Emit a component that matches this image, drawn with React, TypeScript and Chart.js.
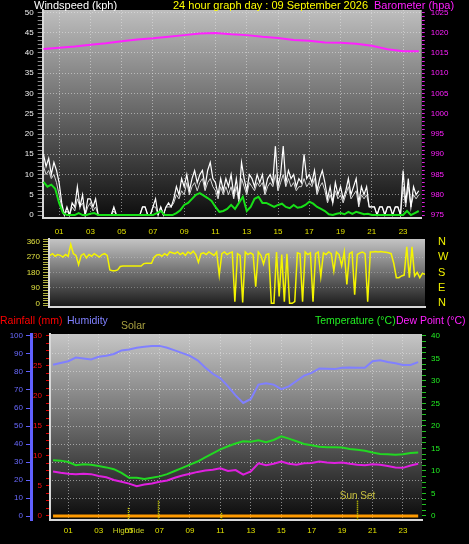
import React, { useEffect, useRef } from "react";
import { Chart, registerables } from "chart.js";

Chart.register(...registerables);

// ---------------- data ----------------
// wind gust, 10-minute readings (kph), 00:00 .. 24:00
const windGust10 = [
  15, 12, 14, 10, 13, 11,
  8, 3, 0, 2, 0, 3,
  2, 7, 2, 5, 0, 4,
  4, 2, 4, 0, 0, 0,
  0, 0, 0, 2, 0, 0,
  0, 0, 0, 0, 0, 0,
  0, 0, 2, 2, 0, 0,
  2, 4, 0, 2, 0, 2,
  3, 2, 4, 7, 5, 9,
  7, 10, 6, 9, 11, 8,
  10, 11, 7, 11, 13, 9,
  8, 5, 9, 6, 9, 7,
  10, 5, 9, 4, 13, 9,
  6, 10, 9, 7, 10, 8,
  10, 6, 9, 10, 8, 17,
  7, 10, 17, 8, 11, 9,
  10, 7, 9, 8, 15, 9,
  10, 8, 11, 6, 9, 11,
  8, 4, 7, 3, 8, 5,
  7, 4, 6, 9, 5, 7,
  9, 3, 7, 5, 7, 2,
  2, 2, 0, 2, 2, 0,
  2, 2, 0, 2, 2, 0,
  11, 3, 9, 2, 7, 5,
  6,
];
// wind speed, 10-minute readings (kph)
const windSpeed10 = [
  12, 10, 11, 9, 10, 8,
  5, 2, 0, 1, 0, 2,
  1, 4, 2, 3, 0, 2,
  3, 1, 2, 0, 0, 0,
  0, 0, 0, 1, 0, 0,
  0, 0, 0, 0, 0, 0,
  0, 0, 2, 2, 0, 0,
  2, 2, 0, 2, 0, 2,
  2, 2, 3, 5, 4, 6,
  5, 8, 5, 7, 8, 6,
  8, 9, 6, 8, 9, 7,
  6, 4, 7, 5, 7, 5,
  7, 4, 7, 3, 9, 7,
  5, 8, 7, 6, 8, 7,
  8, 5, 7, 8, 7, 10,
  6, 8, 10, 7, 9, 7,
  8, 6, 7, 7, 9, 7,
  8, 7, 9, 5, 7, 8,
  6, 3, 5, 3, 6, 4,
  5, 3, 5, 7, 4, 5,
  6, 2, 5, 4, 5, 2,
  2, 2, 0, 2, 2, 0,
  2, 2, 0, 2, 2, 0,
  7, 2, 7, 2, 5, 4,
  5,
];
// average wind, 15-minute readings (kph)
const windAvg15 = [
  8.2, 7, 7.5, 6.5,
  3, 0.5, 0, 0,
  0, 0.5, 0, 0,
  0.3, 0.5, 0, 0,
  0, 0, 0, 0,
  0, 0, 0, 0,
  0, 0, 0, 0,
  0, 0.5, 1, 0,
  0, 0, 0.5, 1.2,
  2.5, 3, 4, 5,
  5.4, 4.8, 4.2, 3.5,
  2, 0.8, 1, 1.5,
  2.5, 1.5, 3, 4.5,
  1, 2, 4, 4.5,
  3, 3, 2.5, 2,
  2.5, 2.8, 2, 1.7,
  2.5, 1.8, 2, 2.5,
  3.3, 2.8, 2, 1.5,
  1, 0.2, 0, 0.3,
  0.5, 0.2, 0.8, 0.3,
  0.8, 0.5, 0.2, 0.3,
  0, 0, 0, 0,
  0, 0, 0, 0,
  0, 1, 0, 0.5,
  1,
];
// barometer, hourly (hPa)
const barometerHourly = [
  1016.0, 1016.3, 1016.6, 1017.0, 1017.4, 1017.9, 1018.3, 1018.6, 1019.0,
  1019.4, 1019.8, 1019.9, 1019.6, 1019.4, 1019.0, 1018.7, 1018.2, 1018.0,
  1017.6, 1017.5, 1017.3, 1016.8, 1015.9, 1015.4, 1015.4,
];
// wind direction, 10-minute readings (degrees)
const windDir10 = [
  280, 290, 275, 285, 280, 270,
  285, 275, 345, 290, 280, 225,
  280, 290, 265, 285, 275, 290,
  280, 270, 285, 290, 280, 195,
  190, 190, 195, 215, 218, 218,
  218, 218, 218, 218, 218, 218,
  232, 234, 234, 234, 270, 282,
  285, 275, 290, 280, 300, 295,
  290, 300, 285, 295, 280, 300,
  290, 305, 285, 240, 290, 295,
  285, 300, 290, 280, 300, 165,
  290, 300, 285, 295, 300, 9,
  290, 280, 5, 300, 285, 295,
  285, 97, 300, 280, 230, 285,
  290, 0, 0, 300, 40, 285,
  10, 290, 0, 0, 10, 295,
  290, 10, 300, 285, 295, 10,
  290, 300, 156, 295, 285, 300,
  290, 190, 300, 285, 220, 300,
  110, 290, 300, 50, 285, 295,
  300, 290, 10, 300, 300, 302,
  300, 302, 300, 298, 295, 290,
  234, 150, 150, 160, 165, 330,
  150, 330, 160, 180, 150, 175,
  170,
];
// humidity (%), temperature and dew point (°C), 30-minute readings
const humidity30 = [
  84, 85, 86, 88, 87.5, 87, 88.5, 89, 90, 92, 92.5, 93.5, 94, 94.5, 94.5, 93.5,
  92, 90.5, 89, 86.5, 82.5, 79, 76.5, 72, 67, 62.8, 65, 73, 73.7, 73, 70.5, 72,
  75, 78, 79.5, 82, 81.8, 81.6, 82.4, 82.5, 82.4, 82.4, 86, 86.5, 85.5, 84.8, 83.9, 83.9,
  85.5,
];
const temperature30 = [
  12.4, 12.3, 12, 11.3, 11.5, 11.4, 11.1, 10.8, 10.4, 9.6, 8.5, 8.5, 8.2, 8.5, 8.8, 9.3,
  10, 10.7, 11.4, 12.1, 13, 13.9, 14.8, 15.5, 16.1, 16.6, 16.5, 16.8, 16.4, 16.9, 17.7, 17.2,
  16.6, 16, 15.7, 15.4, 15.3, 15.3, 15.2, 14.9, 14.7, 14.5, 14.1, 13.8, 13.7, 13.6, 13.7, 14.0,
  14.1,
];
const dewPoint30 = [
  9.9, 9.6, 9.4, 9.3, 9.4, 9.3, 8.9, 8.6, 8.0, 7.6, 7.2, 6.6, 7.0, 7.2, 7.6, 7.9,
  8.5, 9.0, 9.4, 9.8, 10.1, 10.3, 10.6, 10.0, 10.2, 9.2, 9.9, 11.7, 11.3, 11.6, 12.1, 11.6,
  11.4, 11.7, 11.8, 12.1, 11.9, 11.8, 11.9, 11.6, 11.4, 11.3, 11.5, 11.4, 11.1, 10.8, 10.7, 11.2,
  11.6,
];
// rainfall (mm), hourly
const rainHourly = [0, 0, 0, 0, 0, 0, 0, 0, 0, 0, 0, 0, 0, 0, 0, 0, 0, 0, 0, 0, 0, 0, 0, 0, 0];
// events shown on the lower graph
const eventHours = [4.9, 6.9, 11.05, 20.0];
const eventLevels = [1.8, 3.4, 0.7, 3.4];
const eventLabels = ["HighTide", "", "", "Sun Set"];
const eventKinds = ["tide", "sun", "tide", "sun"];
const compassLabels: Record<number, string> = { 360: "N", 270: "W", 180: "S", 90: "E", 0: "N" };

// ---------------- helpers ----------------
const FONT = "Liberation Sans";
const GRID = "rgba(230,230,230,0.55)";
const pts = (vals: number[], step: number) => vals.map((v, i) => ({ x: i * step, y: v }));
const hourLabel = (v: any) => (Number(v) % 2 === 1 ? String(v).padStart(2, "0") : "");

const fitTo = (size: number) => (s: any) => {
  if (s.isHorizontal()) s.height = size;
  else s.width = size;
  s.paddingTop = 0;
  s.paddingBottom = 0;
  s.paddingLeft = 0;
  s.paddingRight = 0;
};

const bgPlugin = (top: string, bottom: string) => ({
  id: "bgGrad",
  beforeDraw(chart: any) {
    const { ctx, chartArea: a } = chart;
    const g = ctx.createLinearGradient(0, a.top, 0, a.bottom);
    g.addColorStop(0, top);
    g.addColorStop(1, bottom);
    ctx.save();
    ctx.fillStyle = g;
    ctx.fillRect(a.left, a.top, a.right - a.left, a.bottom - a.top);
    ctx.restore();
  },
});

const eventPlugin = {
  id: "events",
  afterDatasetsDraw(chart: any) {
    const { ctx, chartArea, scales } = chart;
    const x = scales.x;
    const t = scales.temp;
    eventHours.forEach((h, i) => {
      const px = Math.round(x.getPixelForValue(h)) + 0.5;
      const top = t.getPixelForValue(eventLevels[i]);
      ctx.save();
      ctx.strokeStyle = "#e0e000";
      ctx.lineWidth = 1.5;
      ctx.setLineDash([1, 1]);
      ctx.beginPath();
      ctx.moveTo(px, top);
      ctx.lineTo(px, chartArea.bottom);
      ctx.stroke();
      ctx.setLineDash([]);
      if (eventLabels[i]) {
        ctx.textAlign = "center";
        ctx.textBaseline = "middle";
        if (eventKinds[i] === "sun") {
          ctx.font = `10px "${FONT}"`;
          ctx.fillStyle = "#c8c040";
          ctx.fillText(eventLabels[i], px, top - 4);
        } else {
          ctx.font = `8px "${FONT}"`;
          ctx.fillStyle = "#c8d020";
          ctx.fillText(eventLabels[i], px, chartArea.bottom + 10.5);
        }
      }
      ctx.restore();
    });
  },
};

const common = {
  responsive: false,
  animation: false as const,
  devicePixelRatio: 1,
  events: [] as any[],
  plugins: { legend: { display: false }, tooltip: { enabled: false } },
  elements: { point: { radius: 0 }, line: { tension: 0 } },
};

const tickFont = { family: FONT, size: 8 };

// ---------------- chart configs ----------------
function windConfig(): any {
  return {
    type: "line",
    data: {
      datasets: [
        { data: pts(windAvg15, 0.25), borderColor: "#18e018", borderWidth: 2, yAxisID: "y" },
        { data: pts(windGust10, 1 / 6), borderColor: "#ffffff", borderWidth: 1.2, yAxisID: "y" },
        { data: pts(windSpeed10, 1 / 6), borderColor: "#d4d4d4", borderWidth: 1, yAxisID: "y" },
        { data: pts(barometerHourly, 1), borderColor: "#ff20ff", borderWidth: 2, yAxisID: "y2" },
      ],
    },
    options: {
      ...common,
      layout: { padding: { top: 10, left: 0, right: 0, bottom: 0 } },
      scales: {
        x: {
          type: "linear", min: -0.05, max: 24.19,
          ticks: { stepSize: 1, autoSkip: false, maxRotation: 0, includeBounds: false, color: "#e0e000", font: tickFont, padding: 9, callback: hourLabel },
          grid: { color: (c: any) => (c.tick && c.tick.value % 2 === 1 ? GRID : "transparent"), drawTicks: false },
          border: { color: "#d8d8d8", width: 2, dash: [1, 2] },
          afterFit: fitTo(21.7),
        },
        y: {
          position: "left", min: -0.8, max: 50.6,
          ticks: { stepSize: 1, autoSkip: false, includeBounds: false, color: "#f0f0f0", font: tickFont, padding: 4, callback: (v: any) => (v % 5 === 0 ? String(v) : "") },
          grid: { color: (c: any) => (c.tick && c.tick.value % 5 === 0 && c.tick.value > 0 ? GRID : "transparent"), tickColor: "#8c8c8c", tickLength: 5 },
          border: { color: "#d8d8d8", width: 2, dash: [1, 2] },
          afterFit: fitTo(42.7),
        },
        y2: {
          position: "right", min: 974.2, max: 1025.6,
          ticks: { stepSize: 1, autoSkip: false, includeBounds: false, color: "#ff20ff", font: tickFont, padding: 6, callback: (v: any) => (v % 5 === 0 ? String(v) : "") },
          grid: { drawOnChartArea: false, color: "#ff20ff", tickColor: "#e020e0", tickLength: 3 },
          border: { display: false },
          afterFit: fitTo(47.3),
        },
      },
    },
    plugins: [bgPlugin("#bebebe", "#0c0c0c")],
  };
}

function dirConfig(): any {
  return {
    type: "line",
    data: {
      datasets: [
        { data: pts(windDir10, 1 / 6), borderColor: "#f4f400", borderWidth: 1.5, yAxisID: "y" },
      ],
    },
    options: {
      ...common,
      layout: { padding: { top: 4, left: 0, right: 0, bottom: 3.5 } },
      scales: {
        x: {
          type: "linear", min: -0.06, max: 24,
          ticks: { display: false, stepSize: 1 },
          grid: { display: false },
          border: { color: "#d8d8d8", width: 2 },
          afterFit: fitTo(0),
        },
        y: {
          position: "left", min: -18.7, max: 375.8,
          ticks: { stepSize: 15, autoSkip: false, includeBounds: false, color: "#e0e040", font: tickFont, padding: 3, callback: (v: any) => (v % 90 === 0 ? String(v) : "") },
          grid: { color: (c: any) => (c.tick && c.tick.value % 90 === 0 && c.tick.value > 0 && c.tick.value < 360 ? "rgba(220,220,220,0.35)" : "transparent"), tickColor: "#b0b040", tickLength: 6 },
          border: { color: "#d8d8d8", width: 2, dash: [1, 2] },
          afterFit: fitTo(49),
        },
        y2: {
          position: "right", min: -18.7, max: 375.8,
          ticks: { stepSize: 90, autoSkip: false, includeBounds: false, color: "#f0f000", font: { family: FONT, size: 11 }, padding: 13, callback: (v: any) => compassLabels[v] ?? "" },
          grid: { drawOnChartArea: false, drawTicks: false },
          border: { display: false },
          afterFit: fitTo(44),
        },
      },
    },
    plugins: [bgPlugin("#c4c4c4", "#1a1a1a")],
  };
}

function climateConfig(): any {
  return {
    type: "line",
    data: {
      datasets: [
        { data: pts(rainHourly, 1), borderColor: "#ff9a00", borderWidth: 3, yAxisID: "rain" },
        { data: pts(temperature30, 0.5), borderColor: "#22d822", borderWidth: 2, yAxisID: "temp" },
        { data: pts(dewPoint30, 0.5), borderColor: "#e020e0", borderWidth: 2, yAxisID: "temp" },
        { data: pts(humidity30, 0.5), borderColor: "#8080ff", borderWidth: 2, yAxisID: "hum" },
      ],
    },
    options: {
      ...common,
      layout: { padding: { top: 24, left: 0, right: 0, bottom: 0 } },
      scales: {
        x: {
          type: "linear", min: -0.2, max: 24.25,
          ticks: { stepSize: 1, autoSkip: false, maxRotation: 0, includeBounds: false, color: "#e0e000", font: tickFont, padding: 5.7, callback: hourLabel },
          grid: { color: (c: any) => (c.tick && c.tick.value % 2 === 1 ? GRID : "transparent"), drawTicks: false },
          border: { color: "#d8d8d8", width: 2, dash: [1, 2] },
          afterFit: fitTo(24),
        },
        hum: {
          position: "left", weight: 2, min: -2.2, max: 101.1,
          ticks: { stepSize: 10, autoSkip: false, includeBounds: false, color: "#6a6aff", font: tickFont, padding: 3, callback: (v: any) => String(v) },
          grid: { color: (c: any) => (c.tick && c.tick.value > 0 && c.tick.value < 100 ? GRID : "transparent"), tickColor: "#6060ff", tickLength: 5 },
          border: { color: "#6060ff", width: 3, dash: [1, 2] },
          afterFit: fitTo(31),
        },
        rain: {
          position: "left", weight: 1, min: -0.67, max: 30.33,
          ticks: { stepSize: 1.25, autoSkip: false, includeBounds: false, color: "#ff1010", font: tickFont, padding: 4, callback: (v: any) => (v % 5 === 0 ? String(v) : "") },
          grid: { drawOnChartArea: false, color: "#e00000", tickColor: "#e00000", tickLength: 4 },
          border: { color: "#d8d8d8", width: 2 },
          afterFit: fitTo(19),
        },
        temp: {
          position: "right", min: -0.89, max: 40.44,
          ticks: { stepSize: 1.25, autoSkip: false, includeBounds: false, color: "#22ee22", font: tickFont, padding: 5, callback: (v: any) => (v % 5 === 0 ? String(v) : "") },
          grid: { drawOnChartArea: false, color: "#20c020", tickColor: "#20c020", tickLength: 4 },
          border: { display: false },
          afterFit: fitTo(47),
        },
      },
    },
    plugins: [bgPlugin("#c6c6c6", "#0a0a0a"), eventPlugin],
  };
}

// ---------------- component ----------------
const titleBase: React.CSSProperties = {
  position: "absolute",
  whiteSpace: "nowrap",
  fontFamily: `"${FONT}", Arial, sans-serif`,
  fontSize: 11,
  lineHeight: "12px",
  zIndex: 2,
};

export default function App() {
  const c1 = useRef<HTMLCanvasElement>(null);
  const c2 = useRef<HTMLCanvasElement>(null);
  const c3 = useRef<HTMLCanvasElement>(null);

  useEffect(() => {
    const charts = [
      new Chart(c1.current as HTMLCanvasElement, windConfig()),
      new Chart(c2.current as HTMLCanvasElement, dirConfig()),
      new Chart(c3.current as HTMLCanvasElement, climateConfig()),
    ];
    return () => charts.forEach((c) => c.destroy());
  }, []);

  return (
    <div style={{ position: "absolute", left: 0, top: 0, width: 469, height: 544, background: "#000", overflow: "hidden" }}>
      <canvas ref={c1} width={469} height={240} style={{ position: "absolute", left: 0, top: 0, width: 469, height: 240 }} />
      <canvas ref={c2} width={469} height={75} style={{ position: "absolute", left: 0, top: 235, width: 469, height: 75 }} />
      <canvas ref={c3} width={469} height={234} style={{ position: "absolute", left: 0, top: 310, width: 469, height: 234 }} />

      <div style={{ ...titleBase, left: 34, top: -1, color: "#ffffff" }}>Windspeed (kph)</div>
      <div style={{ ...titleBase, left: 173, top: -1, color: "#ffff00" }}>24 hour graph day : 09 September 2026</div>
      <div style={{ ...titleBase, left: 374, top: -1, color: "#ff20ff" }}>Barometer (hpa)</div>

      <div style={{ ...titleBase, left: 0, top: 314, color: "#ff0000", fontSize: 10.5 }}>Rainfall (mm)</div>
      <div style={{ ...titleBase, left: 67, top: 314, color: "#8080ff", fontSize: 10.5 }}>Humidity</div>
      <div style={{ ...titleBase, left: 121, top: 319, color: "#a8a040", fontSize: 10.5 }}>Solar</div>
      <div style={{ ...titleBase, left: 315, top: 313.5, color: "#22ee22", fontSize: 10.5 }}>Temperature (°C)</div>
      <div style={{ ...titleBase, left: 396, top: 313.5, color: "#ff20ff", fontSize: 10.5 }}>Dew Point (°C)</div>
    </div>
  );
}
